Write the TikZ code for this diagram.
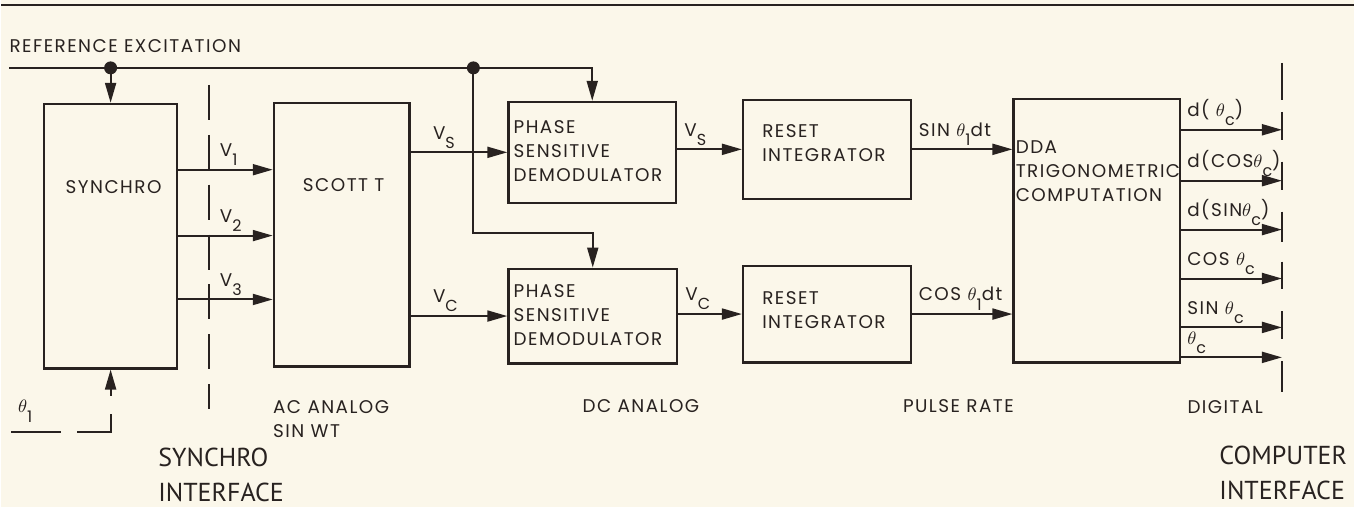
\documentclass[tikz,border=0pt]{standalone}
\usepackage{fontspec}
\setmainfont{Poppins}[LetterSpace=8]
\newfontfamily\tagfont{PT Sans}
\usepackage{tikz}
\usetikzlibrary{arrows.meta, positioning, calc}
\definecolor{paper}{RGB}{251,247,234}
\definecolor{ink}{RGB}{40,34,32}
\newcommand{\lowsub}[1]{\raisebox{-0.9ex}{\fontsize{8}{9}\selectfont #1}}

\begin{document}
\begin{tikzpicture}[x=0.5pt, y=-0.5pt,
    blk/.style 2 args={draw=ink, line width=1.1pt, anchor=north west,
                       inner sep=0pt, minimum width=#1, minimum height=#2},
    txt/.style={text=ink, font=\fontsize{9.2}{12}\selectfont, inner sep=0pt,
                align=left, anchor=north west},
    lbl/.style={text=ink, font=\fontsize{9.2}{12}\selectfont, inner sep=1.5pt},
    arr/.style={draw=ink, line width=1pt, -{Triangle[length=10pt, width=5.5pt]}},
    wire/.style={draw=ink, line width=1pt},
    cut/.style={draw=ink, line width=1pt, dash pattern=on 17.5pt off 7.5pt},
    big/.style={text=ink, font=\tagfont\fontsize{13}{17.5}\selectfont,
                inner sep=0pt, align=left, anchor=west}
  ]
  \fill[paper] (0,0) rectangle (1355,508);
  \draw[ink, line width=1.2pt] (0,5) -- (1355,5);

  % blocks
  \node[blk={66.5pt}{132.5pt}] (synchro) at (42,103) {};
  \node[blk={68pt}{132pt}]     (scott)   at (272,102) {};
  \node[blk={84pt}{50.5pt}]    (psdS)    at (507,101) {};
  \node[blk={84.5pt}{47.5pt}]  (psdC)    at (507,268) {};
  \node[blk={84pt}{49.5pt}]    (riS)     at (742,99) {};
  \node[blk={84pt}{48.5pt}]    (riC)     at (742,265) {};
  \node[blk={83.5pt}{132pt}]   (dda)     at (1013,98) {};

  \node[txt, anchor=center] at ($(synchro.north)+(3,84)$) {SYNCHRO};
  \node[txt, anchor=center] at ($(scott.north)+(2,83)$) {SCOTT T};
  \node[txt] at ($(psdS.north west)+(6,19)$) {PHASE\\SENSITIVE\\DEMODULATOR};
  \node[txt] at ($(psdC.north west)+(6,17)$) {PHASE\\SENSITIVE\\DEMODULATOR};
  \node[txt] at ($(riS.north west)+(20,25)$) {RESET\\INTEGRATOR};
  \node[txt] at ($(riC.north west)+(20,27)$) {RESET\\INTEGRATOR};
  \node[txt] at ($(dda.north west)+(3,43)$) {DDA\\TRIGONOMETRIC\\COMPUTATION};

  % reference excitation
  \node[lbl, anchor=west, inner sep=0pt] (refx) at (8,46) {REFERENCE EXCITATION};
  \coordinate (refL) at (8,68);
  \coordinate (dotA) at (synchro.north |- refL);
  \coordinate (dotB) at (473,68);
  \coordinate (bendB) at (473,233);
  \draw[arr] (refL) -| (psdS.north);
  \draw[arr] (dotA) -- (synchro.north);
  \draw[arr] (dotB) -- (bendB) -| (psdC.north);
  \fill[ink] (dotA) circle (6.5) (dotB) circle (6.5);

  % shaft angle input
  \node[lbl, inner sep=0pt] (thlbl) at (24,412) {$\theta$\lowsub{1}};
  \coordinate (thIn) at (10,433);
  \draw[arr, dash pattern=on 25pt off 8pt on 26pt off 9pt on 20pt] (thIn) -| (synchro.south);

  % interfaces
  \coordinate (cutTop) at (208,85);
  \coordinate (cutBot) at (208,410);
  \draw[cut] (cutTop) -- (cutBot);
  \coordinate (busTop) at (1283,63);
  \coordinate (busBot) at (1283,393);
  \draw[wire, dash pattern=on 18.5pt off 6pt on 14pt off 11pt on 14pt off 11pt on 15pt
        off 10pt on 14pt off 11pt on 14pt off 11pt on 15.5pt] (busTop) -- (busBot);

  % synchro lines
  \foreach \y/\k in {170/1, 236/2, 300/3}
    \draw[arr] (synchro.east |- 0,\y) -- (scott.west |- 0,\y)
      node[lbl, pos=0.4, anchor=south west] {V\lowsub{\k}};

  % resolver signals
  \draw[arr] (scott.east |- psdS.west) -- (psdS.west)
    node[lbl, pos=0.19, anchor=south west] {V\lowsub{S}};
  \draw[arr] (scott.east |- psdC.west) -- (psdC.west)
    node[lbl, pos=0.19, anchor=south west] {V\lowsub{C}};
  \draw[arr] (psdS.east |- riS.west) -- (riS.west)
    node[lbl, pos=0.05, anchor=south west] {V\lowsub{S}};
  \draw[arr] (psdC.east |- riC.west) -- (riC.west)
    node[lbl, pos=0.05, anchor=south west] {V\lowsub{C}};
  \draw[arr] (riS.east) -- (dda.west |- riS.east)
    node[lbl, pos=0.03, anchor=south west] {SIN $\theta$\lowsub{1}dt};
  \draw[arr] (riC.east) -- (dda.west |- riC.east)
    node[lbl, pos=0.03, anchor=south west] {COS $\theta$\lowsub{1}dt};

  % computer outputs
  \foreach \y/\t in {130/{d( $\theta$\lowsub{c})}, 181/{d(COS$\theta$\lowsub{c})},
                     230/{d(SIN$\theta$\lowsub{c})}, 279/{COS $\theta$\lowsub{c}},
                     328/{SIN $\theta$\lowsub{c}}, 358/{$\theta$\lowsub{c}}}
    \draw[arr] (dda.east |- 0,\y) -- (busTop |- 0,\y)
      node[lbl, pos=0.02, anchor=south west] {\t};

  % zone labels
  \node[lbl, inner sep=0pt, anchor=west, align=left] (acan) at (272,420) {AC ANALOG\\SIN WT};
  \node[lbl, inner sep=0pt, anchor=west] (dcan) at (582,407) {DC ANALOG};
  \node[lbl, inner sep=0pt, anchor=west] (pulse) at (903,407) {PULSE RATE};
  \node[lbl, inner sep=0pt, anchor=west] (digi) at (1188,408) {DIGITAL};
  \node[big] (synif) at (157,476) {SYNCHRO\\INTERFACE};
  \node[big] (compif) at (1220,474) {COMPUTER\\INTERFACE};
\end{tikzpicture}
\end{document}
